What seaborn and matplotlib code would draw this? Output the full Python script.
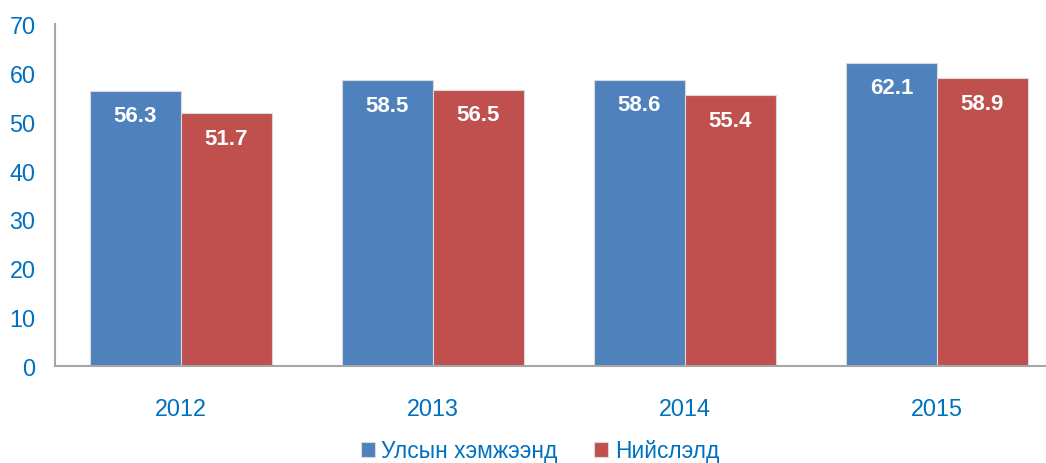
import pandas as pd
import matplotlib
matplotlib.use("Agg")
import matplotlib.pyplot as plt
import seaborn as sns

# ── DATA ──────────────────────────────────────────────────────────
years = ["2012", "2013", "2014", "2015"]
national = [56.3, 58.5, 58.6, 62.1]
capital = [51.7, 56.5, 55.4, 58.9]
series_names = ["Улсын хэмжээнд", "Нийслэлд"]

# long table for seaborn
df = pd.DataFrame({
    "year": years * 2,
    "value": national + capital,
    "series": [series_names[0]] * len(years) + [series_names[1]] * len(years),
})

blue = "#4F81BD"
red = "#C0504D"
text_blue = "#0070C0"

sns.set_style("white")
plt.rcParams["font.family"] = ["Liberation Sans", "DejaVu Sans"]

fig = plt.figure(figsize=(10.46, 4.64), dpi=100)
W, H = 1046, 464
# axes runs a little past the right edge, like the original
ax = fig.add_axes([55 / W, (H - 367) / H, 1008 / W, 342 / H])

sns.barplot(
    data=df, x="year", y="value", hue="series",
    palette=[blue, red], width=0.722, ax=ax,
    edgecolor="#D9D9D9", linewidth=0.8, saturation=1,
)

ax.set_ylim(0, 70)
ax.set_xlim(-0.5, 3.5)
ax.set_yticks(range(0, 71, 10))
ax.set_xlabel("")
ax.set_ylabel("")
ax.tick_params(axis="both", colors=text_blue, labelsize=16.8, length=0)
ax.tick_params(axis="y", pad=14)
ax.tick_params(axis="x", pad=22)

for side in ["top", "right"]:
    ax.spines[side].set_visible(False)
for side in ["left", "bottom"]:
    ax.spines[side].set_color("#A6A6A6")
    ax.spines[side].set_linewidth(1.5)

# value labels inside the bars
for container in ax.containers:
    for bar in container:
        h = bar.get_height()
        ax.annotate(
            f"{h:.1f}",
            (bar.get_x() + bar.get_width() / 2, h),
            xytext=(0, -18), textcoords="offset points",
            ha="center", va="center",
            color="white", fontsize=16, fontweight="bold",
        )

handles, labels = ax.get_legend_handles_labels()
ax.get_legend().remove()
fig.legend(
    handles, labels, loc="center", bbox_to_anchor=(540 / W, (H - 452) / H),
    ncol=2, frameon=False, fontsize=16.4, labelcolor=text_blue,
    handlelength=0.6, handleheight=0.6, handletextpad=0.3, columnspacing=1.6,
)

fig.savefig("out.png", dpi=100)
